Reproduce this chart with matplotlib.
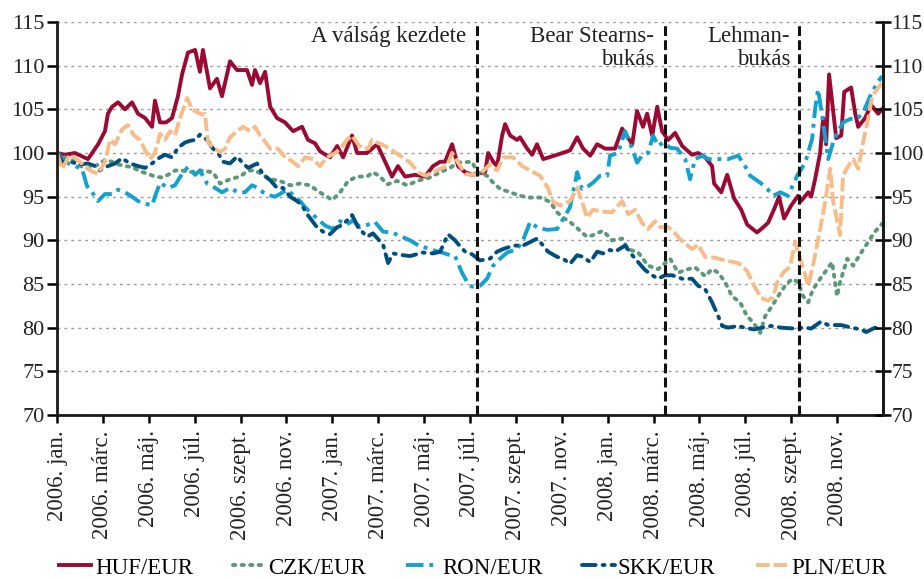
import matplotlib
matplotlib.use("Agg")
import matplotlib.pyplot as plt

plt.rcParams['font.family'] = ['Liberation Serif', 'DejaVu Serif']

# time axis: months elapsed since 2006-01-01
huf_t = [0, 0.35, 0.78, 1.35, 1.79, 2.09, 2.22, 2.40, 2.66, 2.96, 3.27, 3.53, 3.84, 4.14, 4.27, 4.49, 4.75,
         5.01, 5.27, 5.45, 5.71, 6.02, 6.23, 6.36, 6.67, 6.97, 7.19, 7.54, 7.85, 8.28, 8.50, 8.63, 8.85,
         9.07, 9.29, 9.59, 9.94, 10.29, 10.68, 10.94, 11.25, 11.46, 11.90, 12.21, 12.47, 12.86, 13.08,
         13.51, 13.95, 14.30, 14.60, 14.86, 15.17, 15.61, 16.04, 16.39, 16.70, 16.91, 17.22, 17.48,
         17.79, 18.09, 18.66, 18.79, 19.01, 19.18, 19.40, 19.53, 19.75, 20.05, 20.18, 20.49, 20.71,
         20.92, 21.19, 21.80, 22.36, 22.67, 22.93, 23.24, 23.54, 23.89, 24.32, 24.63, 25.07, 25.28,
         25.54, 25.72, 25.94, 26.16, 26.37, 26.64, 26.94, 27.25, 27.68, 27.94, 28.25, 28.55, 28.64,
         28.95, 29.21, 29.51, 29.82, 30.08, 30.51, 30.78, 30.99, 31.26, 31.47, 31.69, 32.00, 32.30,
         32.43, 32.74, 32.87, 33.04, 33.26, 33.39, 33.52, 33.65, 33.83, 33.96, 34.18, 34.31, 34.61,
         34.79, 34.92, 35.22, 35.48, 35.79, 35.96]
huf_v = [100, 99.8, 100, 99.3, 101, 102.5, 104.5, 105.3, 105.8, 105, 105.8, 104.5, 104, 103, 106, 103.5, 103.5,
         104, 106.5, 109, 111.5, 111.8, 109.3, 111.8, 107.4, 108.5, 106.5, 110.5, 109.5, 109.5, 107.8, 109.5, 108,
         109.3, 105.3, 104, 103.5, 102.5, 103, 101.5, 101.1, 100.2, 99.5, 100.8, 99.5, 102, 100,
         100, 101, 99, 97.3, 98.5, 97.3, 97.5, 97.3, 98.5, 99, 99, 101, 98.5,
         97.8, 97.5, 97.8, 100, 99, 98.5, 102, 103.3, 102, 101.5, 101.8, 100.5, 99.8,
         101, 99.3, 99.8, 100.3, 101.8, 100.5, 99.7, 101, 100.5, 100.5, 102.8, 101, 104.8,
         103, 104.5, 102, 105.3, 102.5, 101.5, 102.3, 100.8, 99.8, 100, 99.5, 98.5, 96.5,
         95.5, 97.5, 94.8, 93.5, 91.8, 90.9, 91.5, 92, 93.6, 95, 92.5, 94, 95.1,
         94.5, 95.5, 95, 97, 100, 104, 101, 109, 104.8, 101.7, 102, 107, 107.5,
         104.5, 103, 104, 105.5, 104.5, 105]

czk_t = [0, 0.35, 0.78, 1.09, 1.35, 1.66, 1.87, 2.09, 2.40, 2.66, 2.96, 3.27, 3.62, 3.97, 4.27, 4.58, 4.84,
         5.14, 5.45, 5.80, 6.23, 6.80, 7.11, 7.54, 7.98, 8.33, 8.63, 8.98, 9.29, 9.72, 10.16, 10.59,
         11.03, 11.38, 11.77, 11.99, 12.34, 12.69, 13.08, 13.51, 13.77, 14.08, 14.39, 14.82, 15.26,
         15.69, 16.26, 16.70, 17.13, 17.48, 18.09, 18.31, 18.74, 19.01, 19.31, 19.75, 20.18, 20.62,
         21.05, 21.49, 21.80, 22.06, 22.36, 22.80, 23.10, 23.36, 23.80, 24.19, 24.63, 24.89, 25.33,
         25.76, 26.20, 26.72, 27.07, 27.51, 27.81, 28.25, 28.55, 28.82, 29.12, 29.42, 29.77, 30.08,
         30.34, 30.65, 30.86, 31.17, 31.43, 31.73, 32.04, 32.30, 32.52, 32.74, 32.95, 33.26, 33.57,
         33.78, 34.00, 34.13, 34.44, 34.70, 35.05, 35.35, 35.62, 35.96]
czk_v = [100, 99.5, 99, 98.4, 98.2, 98.5, 98.8, 99.2, 99, 98.7, 98.5, 98.4, 97.9, 97.6, 97.3, 97.2, 97.5,
         98, 98, 97.8, 98, 97.8, 96.5, 97, 97.3, 98, 98, 97.5, 97, 96.8, 96.3, 96.5,
         96.3, 95.6, 95, 94.6, 95.5, 96.8, 97.3, 97.3, 97.8, 97.3, 96.4, 96.8, 96.3,
         96.8, 97.2, 97.8, 98.3, 98.9, 99, 97.8, 97.4, 96.6, 95.9, 95.5, 95.1, 94.9,
         94.9, 94.4, 93.2, 92.6, 92.1, 91.1, 90.4, 90.6, 91.1, 90, 90.2, 89, 88.6,
         87.1, 86.7, 87.9, 86.3, 86.7, 86.9, 85.9, 86.7, 86.3, 85.2, 83.6, 82.9, 81.3,
         80.6, 79.4, 81.3, 82.5, 83.6, 84.8, 85.6, 85.2, 83.6, 82.9, 84.4, 85.6, 86.7,
         87.5, 83.6, 85.2, 87.9, 87.1, 88.6, 89.8, 90.9, 91.9]

ron_t = [0, 0.35, 0.78, 1.09, 1.31, 1.53, 1.79, 2.09, 2.40, 2.66, 2.96, 3.27, 3.53, 3.84, 4.14, 4.27, 4.49,
         4.84, 5.14, 5.45, 5.71, 6.02, 6.23, 6.54, 6.89, 7.19, 7.54, 7.89, 8.19, 8.50, 8.76, 8.98,
         9.20, 9.50, 9.72, 10.03, 10.37, 10.59, 10.81, 11.12, 11.38, 11.68, 12.03, 12.34, 12.64,
         12.90, 13.21, 13.56, 13.86, 14.21, 14.60, 14.95, 15.39, 15.82, 16.17, 16.48, 16.78, 17.13,
         17.35, 17.65, 17.92, 18.09, 18.44, 18.74, 19.01, 19.31, 19.62, 20.05, 20.31, 20.62, 20.92,
         21.36, 21.80, 22.14, 22.36, 22.67, 22.88, 23.10, 23.36, 23.67, 23.98, 24.10, 24.45, 24.76,
         25.07, 25.28, 25.50, 25.76, 25.98, 26.20, 26.42, 26.72, 27.03, 27.38, 27.59, 27.81, 28.12,
         28.38, 28.82, 29.25, 29.69, 29.99, 30.21, 30.65, 30.95, 31.21, 31.52, 31.86, 32.26, 32.61,
         32.91, 33.04, 33.17, 33.35, 33.61, 33.87, 34.26, 34.57, 34.87, 35.13, 35.44, 35.74, 35.96]
ron_v = [100, 99, 98.5, 98.2, 96.2, 95.5, 94.5, 95.3, 95.3, 95.8, 95.5, 95, 94.5, 94.2, 94, 95, 96.6,
         96, 96.3, 97.6, 98.4, 97.5, 98, 96.5, 96, 95.5, 96, 95.5, 95.5, 96.3, 96, 95.5,
         95.2, 95, 95.3, 95.8, 95, 94.5, 93.8, 93, 92.4, 91.7, 91.3, 92.2, 91.8,
         92.3, 91.5, 91.8, 92.1, 91, 90.9, 90.5, 90, 89.3, 89.1, 88.8, 88.6, 88.3,
         88.2, 86.3, 85, 84.7, 84.8, 85.6, 87.1, 87.9, 88.6, 89, 90, 92.1, 91.5,
         91.2, 91.3, 92.8, 93.8, 97.8, 95.9, 96.1, 96.6, 97.4, 97.4, 99.7, 100, 102.5,
         100.5, 98.9, 99.7, 100, 102, 100.8, 101.2, 100.6, 100.5, 99.3, 97, 99.3, 99.7,
         99.3, 99.3, 99.3, 99.7, 98.5, 97.4, 96.6, 95.9, 95.1, 95.5, 95.1, 97.4, 98.9,
         101.6, 105, 107.3, 104.2, 99.3, 101.6, 103.5, 103.9, 103.9, 104.6, 106.5, 108, 108.8]

skk_t = [0, 0.22, 0.57, 1.00, 1.35, 1.66, 1.87, 2.22, 2.53, 2.83, 3.18, 3.53, 3.84, 4.14, 4.49, 4.71, 5.01,
         5.27, 5.58, 5.80, 6.02, 6.23, 6.54, 6.80, 7.02, 7.24, 7.54, 7.85, 8.11, 8.33, 8.72, 8.98,
         9.29, 9.59, 9.85, 10.16, 10.46, 10.68, 10.90, 11.33, 11.59, 11.90, 12.21, 12.47, 12.86,
         13.12, 13.51, 13.77, 14.21, 14.43, 14.65, 15.08, 15.39, 15.95, 16.39, 16.70, 17.04, 17.35,
         17.57, 17.79, 18.09, 18.44, 18.87, 19.18, 19.44, 19.88, 20.31, 20.62, 20.92, 21.19, 21.40,
         21.80, 22.06, 22.36, 22.67, 22.93, 23.24, 23.54, 23.80, 24.10, 24.32, 24.76, 25.07, 25.33,
         25.63, 25.94, 26.20, 26.50, 26.81, 27.25, 27.68, 27.94, 28.25, 28.55, 28.82, 28.99, 29.25,
         29.69, 29.95, 30.38, 31.12, 31.56, 32.13, 32.56, 32.87, 33.30, 33.61, 34.18, 34.61, 35.05,
         35.26, 35.66, 35.96]
skk_v = [100, 99, 99, 98.7, 98.8, 98.5, 98, 98.5, 98.8, 99.4, 98.8, 98.5, 98.3, 98.8, 99.5, 99.8, 99.5,
         100.6, 101.2, 101.4, 101.5, 102.1, 101.5, 100.5, 100, 99, 98.8, 99.6, 98.8, 98.3, 98.8, 97.5,
         96.9, 96, 96, 95, 94.5, 94, 93, 91.5, 91, 90.7, 91.5, 91.8, 92.9,
         91.5, 90.4, 90.8, 89.5, 87.4, 88.5, 88.3, 88.2, 88.6, 88.5, 88.7, 90.7, 90,
         89.3, 88.7, 88.4, 87.7, 87.9, 88.7, 89, 89.4, 89.4, 89.8, 90.2, 89.4, 88.7,
         88.1, 87.9, 87.3, 88.3, 88.1, 87.5, 88.7, 88.5, 88.9, 88.7, 89.4, 88.3, 87.5,
         86.6, 86, 85.6, 86, 86, 85.6, 85.6, 84.8, 84.4, 82.9, 81.3, 80.2, 80,
         80.2, 80, 79.8, 80.2, 80, 79.9, 80, 79.9, 80.7, 80.3, 80.3, 80, 79.8,
         79.5, 80, 79.8]

pln_t = [0, 0.22, 0.57, 1.00, 1.44, 1.79, 2.09, 2.31, 2.53, 2.83, 3.09, 3.36, 3.62, 3.84, 4.05, 4.27, 4.49,
         4.71, 4.93, 5.14, 5.36, 5.67, 5.88, 6.10, 6.32, 6.45, 6.58, 6.89, 7.11, 7.32, 7.54, 7.85,
         8.11, 8.41, 8.63, 8.85, 9.07, 9.29, 9.63, 9.94, 10.16, 10.51, 10.81, 11.16, 11.46, 11.77,
         12.12, 12.34, 12.64, 12.86, 13.12, 13.30, 13.56, 13.73, 13.95, 14.30, 14.60, 14.95, 15.39,
         15.74, 16.04, 16.35, 16.70, 17.00, 17.22, 17.48, 17.79, 18.09, 18.44, 18.87, 19.18, 19.44,
         19.88, 20.27, 20.62, 21.05, 21.40, 21.62, 21.93, 22.36, 22.67, 22.88, 23.10, 23.36, 23.80,
         24.19, 24.63, 24.89, 25.20, 25.50, 25.76, 26.07, 26.29, 26.64, 26.94, 27.16, 27.68, 27.94,
         28.25, 28.68, 29.12, 29.69, 30.08, 30.38, 30.69, 30.99, 31.21, 31.39, 31.65, 31.95, 32.17,
         32.39, 32.61, 32.74, 32.95, 33.26, 33.48, 33.70, 33.83, 34.04, 34.13, 34.26, 34.48, 34.70,
         34.92, 35.13, 35.35, 35.53, 35.74, 35.96]
pln_v = [100, 98.2, 99.8, 99, 98, 97.6, 99, 101.5, 101, 102.7, 103.2, 102, 101.5, 100.3, 99.3, 100, 102.2,
         101.5, 102.5, 102, 104, 106.3, 105, 104.7, 104.4, 104.5, 101.2, 100.5, 100.1, 100.5, 101.8, 102.5,
         103, 102.5, 103, 102, 101.3, 100.5, 100.5, 99.5, 99.2, 98.5, 99.5, 99.3, 98.5, 99.5,
         100, 100.5, 101.5, 102, 101, 100.5, 100.5, 101.5, 101.2, 100.8, 100.3, 99.7, 98.9,
         97.8, 97.4, 97.7, 98.2, 98.5, 100, 98.9, 97.6, 97.5, 97.6, 98.7, 98, 99.5,
         99.5, 98.5, 98, 97.4, 96, 94.4, 94, 94.5, 96, 94.5, 92.6, 93.5, 93.3,
         93.2, 94.5, 93, 93.5, 92, 91.3, 92.2, 91.5, 91.5, 90.8, 90.1, 89, 89.5,
         88.1, 88, 87.7, 87.4, 86.5, 84.8, 83.4, 83.1, 83.5, 85.2, 86.3, 87, 89.8,
         87.9, 86, 84.8, 87.1, 91.3, 94.4, 98.2, 94.4, 91.7, 90.6, 97.4, 98.5, 99.3,
         98.2, 101.2, 103.9, 106.5, 107.3, 108]

series_names = ["HUF/EUR", "CZK/EUR", "RON/EUR", "SKK/EUR", "PLN/EUR"]

tick_months = [0, 2, 4, 6, 8, 10, 12, 14, 16, 18, 20, 22, 24, 26, 28, 30, 32, 34]
tick_labels = ["2006. jan.", "2006. márc.", "2006. máj.", "2006. júl.", "2006. szept.", "2006. nov.",
               "2007. jan.", "2007. márc.", "2007. máj.", "2007. júl.", "2007. szept.", "2007. nov.",
               "2008. jan.", "2008. márc.", "2008. máj.", "2008. júl.", "2008. szept.", "2008. nov."]
y_ticks = [70, 75, 80, 85, 90, 95, 100, 105, 110, 115]

event_months = [18.32, 26.48, 32.36]
event_labels = ["A válság kezdete", "Bear Stearns-\nbukás", "Lehman-\nbukás"]

fig = plt.figure(figsize=(9.24, 5.79), dpi=100)
ax = fig.add_axes([57/924, 1-415/579, (883-57)/924, (415-22)/579])

FS = 16.5
FSY = 16
TXT = "#222222"
styles = [
    dict(color="#9B0A32", lw=2.8, ls="-"),
    dict(color="#5B9A78", lw=2.8, ls=(0, (0.6, 1.6)), dash_capstyle="round"),
    dict(color="#12A2CF", lw=2.8, ls=(0, (4.5, 1.5, 1.0, 1.5))),
    dict(color="#00507F", lw=2.8, ls=(0, (3.5, 1.8, 0.5, 1.8)), dash_capstyle="round"),
    dict(color="#F8BC88", lw=2.8, ls=(0, (3.5, 1.0))),
]
data = [(huf_t, huf_v), (czk_t, czk_v), (ron_t, ron_v), (skk_t, skk_v), (pln_t, pln_v)]
handles = []
for (t, v), st, name in zip(data, styles, series_names):
    h, = ax.plot(t, v, label=name, **st)
    handles.append(h)

for em in event_months:
    ax.axvline(em, color="#111111", lw=2.2, ls=(0, (3.2, 1.4)), zorder=5)

ax.text(event_months[0] - 0.5, 114.5, event_labels[0], ha="right", va="top", fontsize=FS, color=TXT)
ax.text(event_months[1] - 0.45, 114.5, event_labels[1], ha="right", va="top", fontsize=FS, color=TXT,
        linespacing=1.1, multialignment="right")
ax.text(event_months[2] - 0.4, 114.5, event_labels[2], ha="right", va="top", fontsize=FS, color=TXT,
        linespacing=1.1, multialignment="right")

ax.set_xlim(0, 36)
ax.set_ylim(70, 115)
ax.set_yticks(y_ticks)
ax.yaxis.grid(True, color="#9a9a9a", lw=1.0, ls=(0, (2, 3)))
ax.set_axisbelow(True)
ax.set_xticks(tick_months)
ax.set_xticklabels(tick_labels, rotation=90, fontsize=FS, color=TXT)
ax.tick_params(axis="x", direction="out", length=6, width=1.8, pad=5)
ax.tick_params(axis="y", direction="out", length=7, width=1.8, pad=2, labelsize=FSY, labelcolor=TXT,
               left=True, right=False)

for s in ["left", "right", "bottom"]:
    ax.spines[s].set_linewidth(2.0)
    ax.spines[s].set_color("#1a1a1a")
ax.spines["top"].set_visible(False)

ax2 = ax.twinx()
ax2.set_ylim(70, 115)
ax2.set_yticks(y_ticks)
ax2.tick_params(axis="y", direction="inout", length=11, width=1.8, pad=0.5, labelsize=15.5, labelcolor=TXT)
for s in ["left", "top", "bottom"]:
    ax2.spines[s].set_visible(False)
ax2.spines["right"].set_linewidth(2.0)
ax2.spines["right"].set_color("#1a1a1a")

fig.legend(handles=handles, labels=series_names, loc="center", bbox_to_anchor=(0.512, 0.019), ncol=5,
           frameon=False, fontsize=FS, handlelength=1.4, handletextpad=0.15, columnspacing=1.75)

fig.savefig("out.png", dpi=100)
